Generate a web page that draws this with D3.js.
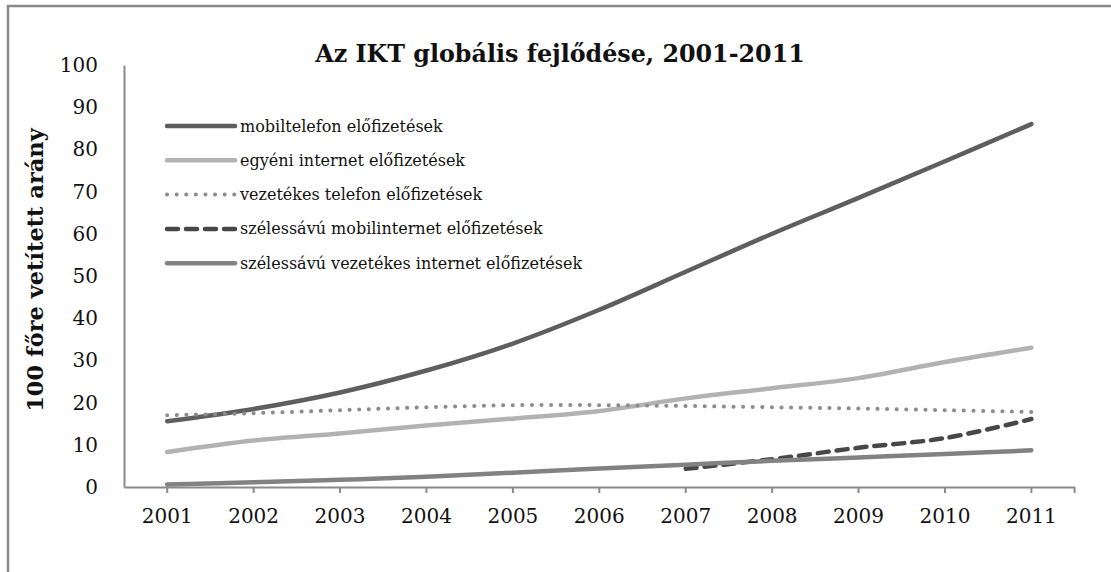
<!DOCTYPE html>
<html>
<head>
<meta charset="utf-8">
<script src="https://cdn.jsdelivr.net/npm/d3@7"></script>
<style>
  body { margin: 0; background: #fff; }
  svg { display: block; }
</style>
</head>
<body>
<div id="chart"></div>
<script>
// IKT chart data (per 100 inhabitants)
const years = ["2001", "2002", "2003", "2004", "2005", "2006", "2007", "2008", "2009", "2010", "2011"];
const seriesNames = [
    "mobiltelefon előfizetések",
    "egyéni internet előfizetések",
    "vezetékes telefon előfizetések",
    "szélessávú mobilinternet előfizetések",
    "szélessávú vezetékes internet előfizetések"
];
const mobile = [15.6, 18.5, 22.4, 27.6, 34.0, 42.0, 51.0, 60.0, 68.5, 77.2, 86.0];
const internet = [8.3, 11.0, 12.7, 14.6, 16.2, 18.0, 21.0, 23.4, 25.8, 29.6, 33.0];
const fixedPhone = [17.0, 17.5, 18.2, 18.9, 19.4, 19.4, 19.2, 18.9, 18.6, 18.2, 17.8];
const mobileBroadband = [null, null, null, null, null, null, 4.3, 6.6, 9.3, 11.6, 16.1];
const fixedBroadband = [0.6, 1.1, 1.7, 2.4, 3.4, 4.4, 5.3, 6.2, 7.0, 7.8, 8.7];
const yTicks = [0, 10, 20, 30, 40, 50, 60, 70, 80, 90, 100];

const width = 1111, height = 572;
const margin = { left: 124, right: 1074.6, top: 65, bottom: 487 };
const serif = "'DejaVu Serif', serif";

const styles = [
    { color: "#5e5e5e", width: 4.5, dash: null },
    { color: "#b2b2b2", width: 4.5, dash: null },
    { color: "#8c8c8c", width: 4, dash: "0.1 9.5" },
    { color: "#474747", width: 4.5, dash: "11 8" },
    { color: "#828282", width: 4.5, dash: null }
];
const allSeries = [mobile, internet, fixedPhone, mobileBroadband, fixedBroadband];

const svg = d3.select("#chart").append("svg")
    .attr("width", width)
    .attr("height", height);

// frame (cropped at right/bottom)
svg.append("path")
    .attr("d", `M8,572 L8,6 L1111,6`)
    .attr("fill", "none")
    .attr("stroke", "#8c8c8c")
    .attr("stroke-width", 2.5);

const x = d3.scaleBand().domain(years).range([margin.left, margin.right]).padding(0);
const y = d3.scaleLinear().domain([0, 100]).range([margin.bottom, margin.top]);

// title
svg.append("text")
    .attr("x", 560)
    .attr("y", 62)
    .attr("text-anchor", "middle")
    .style("font-family", serif)
    .style("font-size", "23.8px")
    .style("font-weight", "bold")
    .attr("fill", "#111")
    .text("Az IKT globális fejlődése, 2001-2011");

// y axis
const yAxis = svg.append("g")
    .attr("transform", `translate(${margin.left},0)`)
    .call(d3.axisLeft(y).tickValues(yTicks).tickSize(0).tickPadding(26));
yAxis.select(".domain").attr("stroke", "#8a8a8a").attr("stroke-width", 2);
yAxis.selectAll("text")
    .style("font-family", serif)
    .style("font-size", "20px")
    .attr("fill", "#111");

// x axis
const xAxis = svg.append("g")
    .attr("transform", `translate(0,${margin.bottom})`)
    .call(d3.axisBottom(x).tickSizeInner(6).tickSizeOuter(0).tickPadding(16));
xAxis.select(".domain").attr("stroke", "#8a8a8a").attr("stroke-width", 2);
xAxis.selectAll(".tick line").attr("stroke", "#8a8a8a").attr("stroke-width", 2);
xAxis.selectAll("text")
    .style("font-family", serif)
    .style("font-size", "20px")
    .attr("fill", "#111");
// end tick
xAxis.append("line")
    .attr("x1", margin.right).attr("x2", margin.right)
    .attr("y1", 0).attr("y2", 6)
    .attr("stroke", "#8a8a8a").attr("stroke-width", 2);

// y axis title
svg.append("text")
    .attr("transform", `translate(43,270) rotate(-90)`)
    .attr("text-anchor", "middle")
    .style("font-family", serif)
    .style("font-size", "22.5px")
    .style("font-weight", "bold")
    .attr("fill", "#111")
    .text("100 főre vetített arány");

// lines
const line = d3.line()
    .defined(d => d != null)
    .x((d, i) => x(years[i]) + x.bandwidth() / 2)
    .y(d => y(d))
    .curve(d3.curveCatmullRom.alpha(0.5));

allSeries.forEach((vals, k) => {
    const st = styles[k];
    svg.append("path")
        .datum(vals)
        .attr("d", line)
        .attr("fill", "none")
        .attr("stroke", st.color)
        .attr("stroke-width", st.width)
        .attr("stroke-linecap", "round")
        .attr("stroke-linejoin", "round")
        .attr("stroke-dasharray", st.dash);
});

// legend
const legend = svg.append("g");
seriesNames.forEach((name, k) => {
    const st = styles[k];
    const ly = 126 + k * 34.3;
    legend.append("line")
        .attr("x1", 167).attr("x2", 235)
        .attr("y1", ly).attr("y2", ly)
        .attr("stroke", st.color)
        .attr("stroke-width", st.width)
        .attr("stroke-linecap", "round")
        .attr("stroke-dasharray", st.dash);
    legend.append("text")
        .attr("x", 240)
        .attr("y", ly + 5.5)
        .style("font-family", serif)
        .style("font-size", "16px")
        .attr("fill", "#111")
        .text(name);
});
</script>
</body>
</html>
